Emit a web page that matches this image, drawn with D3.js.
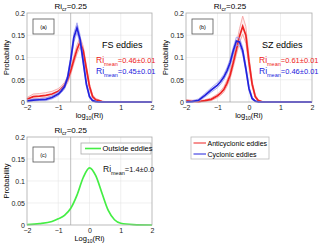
<!DOCTYPE html>
<html>
<head>
<meta charset="utf-8">
<script src="https://cdn.jsdelivr.net/npm/d3@7"></script>
<style>
  body { margin: 0; background: #fff; }
  text { font-family: "Liberation Sans", Arial, sans-serif; }
</style>
</head>
<body>
<svg id="chart" width="320" height="247"></svg>
<script>
// bin centres of log10(Ri) for the eddy histograms
const xsEddy = [-2, -1.8, -1.6, -1.4, -1.2, -1, -0.9, -0.8, -0.7, -0.6, -0.5, -0.4, -0.3, -0.2, -0.1, 0, 0.1, 0.2, 0.3, 0.4, 0.5, 1, 1.5, 2];

// (a) FS eddies
const fsAnti      = [0.006, 0.012, 0.013, 0.015, 0.018, 0.024, 0.030, 0.038, 0.050, 0.070, 0.095, 0.118, 0.135, 0.115, 0.075, 0.035, 0.012, 0.005, 0.003, 0.001, 0, 0, 0, 0];
const fsAntiHi    = [0.010, 0.018, 0.019, 0.021, 0.024, 0.030, 0.036, 0.044, 0.057, 0.078, 0.104, 0.128, 0.146, 0.125, 0.083, 0.041, 0.016, 0.008, 0.005, 0.002, 0.001, 0, 0, 0];
const fsAntiLo    = [0.002, 0.007, 0.008, 0.010, 0.013, 0.018, 0.024, 0.032, 0.043, 0.062, 0.086, 0.108, 0.124, 0.105, 0.067, 0.029, 0.008, 0.002, 0.001, 0, 0, 0, 0, 0];
const fsCyc       = [0.002, 0.004, 0.005, 0.006, 0.010, 0.018, 0.025, 0.034, 0.055, 0.095, 0.145, 0.167, 0.140, 0.090, 0.040, 0.012, 0.003, 0.001, 0, 0, 0, 0, 0, 0];
const fsCycHi     = [0.004, 0.007, 0.008, 0.009, 0.014, 0.022, 0.030, 0.039, 0.061, 0.103, 0.155, 0.178, 0.150, 0.098, 0.045, 0.015, 0.005, 0.002, 0, 0, 0, 0, 0, 0];
const fsCycLo     = [0, 0.002, 0.003, 0.003, 0.007, 0.014, 0.021, 0.029, 0.049, 0.087, 0.135, 0.156, 0.130, 0.082, 0.035, 0.009, 0.001, 0, 0, 0, 0, 0, 0, 0];

// (b) SZ eddies
const szAnti      = [0.003, 0.002, 0.001, 0.003, 0.006, 0.014, 0.020, 0.028, 0.042, 0.060, 0.088, 0.118, 0.148, 0.170, 0.150, 0.090, 0.040, 0.012, 0.003, 0.001, 0, 0, 0, 0];
const szAntiHi    = [0.005, 0.004, 0.003, 0.005, 0.009, 0.018, 0.025, 0.034, 0.049, 0.068, 0.098, 0.131, 0.165, 0.193, 0.170, 0.103, 0.047, 0.016, 0.005, 0.002, 0, 0, 0, 0];
const szAntiLo    = [0.001, 0, 0, 0.001, 0.003, 0.010, 0.015, 0.022, 0.035, 0.052, 0.078, 0.106, 0.133, 0.152, 0.132, 0.078, 0.034, 0.008, 0.001, 0, 0, 0, 0, 0];
const szCyc       = [0, 0.001, 0.004, 0.015, 0.027, 0.038, 0.046, 0.056, 0.070, 0.088, 0.115, 0.137, 0.135, 0.115, 0.075, 0.030, 0.008, 0.002, 0, 0, 0, 0, 0, 0];
const szCycHi     = [0.001, 0.003, 0.007, 0.019, 0.032, 0.044, 0.052, 0.062, 0.077, 0.096, 0.123, 0.146, 0.144, 0.123, 0.082, 0.035, 0.011, 0.003, 0, 0, 0, 0, 0, 0];
const szCycLo     = [0, 0, 0.002, 0.011, 0.022, 0.032, 0.040, 0.050, 0.063, 0.080, 0.107, 0.128, 0.126, 0.107, 0.068, 0.025, 0.005, 0.001, 0, 0, 0, 0, 0, 0];

// (c) outside eddies
const xsOut = [-2, -1.6, -1.2, -1, -0.8, -0.6, -0.4, -0.2, 0, 0.2, 0.4, 0.6, 0.8, 1, 1.4, 2];
const outside = [0.001, 0.003, 0.008, 0.014, 0.022, 0.038, 0.068, 0.108, 0.130, 0.112, 0.072, 0.033, 0.012, 0.004, 0.001, 0];

const xTicks = [-2, -1, 0, 1, 2];
const yTicks = [0, 0.05, 0.1, 0.15, 0.2];
const riCr = 0.25;

const RED = "#ee2222", RED_L = "#f59a9a", BLUE = "#2222dd", BLUE_L = "#9a9af0", GREEN = "#44ee44";

const svg = d3.select("#chart");

function panel(o) {
    const x = d3.scaleLinear().domain([-2, 2]).range([o.left, o.right]);
    const y = d3.scaleLinear().domain([0, 0.2]).range([o.bottom, o.top]);
    const g = svg.append("g");

    // grid
    g.selectAll(".gx").data(xTicks.slice(1, -1)).enter().append("line")
        .attr("x1", d => x(d)).attr("x2", d => x(d))
        .attr("y1", o.top).attr("y2", o.bottom)
        .attr("stroke", "#e6e6e6").attr("stroke-width", 0.6);
    g.selectAll(".gy").data(yTicks.slice(1, -1)).enter().append("line")
        .attr("x1", o.left).attr("x2", o.right)
        .attr("y1", d => y(d)).attr("y2", d => y(d))
        .attr("stroke", "#e6e6e6").attr("stroke-width", 0.6);

    // Ri_cr line
    const xc = x(Math.log10(riCr));
    g.append("line").attr("x1", xc).attr("x2", xc).attr("y1", o.top).attr("y2", o.bottom)
        .attr("stroke", "#b0b0b0").attr("stroke-width", 0.8);

    // axes
    const ax = g.append("g").attr("transform", `translate(0,${o.bottom})`)
        .call(d3.axisBottom(x).tickValues(xTicks).tickSize(0).tickPadding(3).tickFormat(d3.format("d")));
    const ay = g.append("g").attr("transform", `translate(${o.left},0)`)
        .call(d3.axisLeft(y).tickValues(yTicks).tickSize(0).tickPadding(2).tickFormat(d => d === 0 ? "0" : String(d)));
    [ax, ay].forEach(a => {
        a.select(".domain").remove();
        a.selectAll("text").attr("font-size", 7).attr("fill", "#222").attr("font-family", "Liberation Sans, Arial, sans-serif");
    });

    // curves
    o.series.forEach(s => {
        const line = d3.line().x((d, i) => x(s.xs[i])).y(d => y(d)).curve(s.curve || d3.curveLinear);
        if (s.hi) {
            const area = d3.area().x((d, i) => x(s.xs[i])).y0((d, i) => y(s.lo[i])).y1(d => y(d));
            g.append("path").attr("d", area(s.hi)).attr("fill", s.light).attr("opacity", 0.18);
            g.append("path").attr("d", line(s.hi)).attr("fill", "none").attr("stroke", s.light).attr("stroke-width", 0.8);
            g.append("path").attr("d", line(s.lo)).attr("fill", "none").attr("stroke", s.light).attr("stroke-width", 0.8);
        }
        g.append("path").attr("d", line(s.values)).attr("fill", "none")
            .attr("stroke", s.color).attr("stroke-width", 1.7);
    });

    // frame
    g.append("rect").attr("x", o.left).attr("y", o.top)
        .attr("width", o.right - o.left).attr("height", o.bottom - o.top)
        .attr("fill", "none").attr("stroke", "#aaa").attr("stroke-width", 0.8);

    // panel tag box
    g.append("rect").attr("x", o.left + 6).attr("y", o.tagY).attr("width", 21).attr("height", 15)
        .attr("fill", "#fff").attr("stroke", "#555").attr("stroke-width", 0.8);
    g.append("text").attr("x", o.left + 16.5).attr("y", o.tagY + 9.5).attr("text-anchor", "middle")
        .attr("font-size", 5.5).attr("font-family", "Liberation Serif, serif").text(o.tag);

    // title Ri_cr
    const t = g.append("text").attr("x", xc).attr("y", o.top - 4).attr("text-anchor", "middle").attr("font-size", 8);
    t.append("tspan").text("Ri");
    t.append("tspan").attr("font-size", 5.5).attr("dy", 2).text("cr");
    t.append("tspan").attr("dy", -2).text("=0.25");

    // x label
    const xl = g.append("text").attr("x", (o.left + o.right) / 2).attr("y", o.bottom + 16)
        .attr("text-anchor", "middle").attr("font-size", 7.5);
    xl.append("tspan").text(o.xlab);
    xl.append("tspan").attr("font-size", 5).attr("dy", 2).text("10");
    xl.append("tspan").attr("dy", -2).text("(Ri)");

    // y label
    g.append("text").attr("transform", `translate(${o.left - 18},${(o.top + o.bottom) / 2}) rotate(-90)`)
        .attr("text-anchor", "middle").attr("font-size", 7.5).text("Probability");

    return {x, y, g};
}

function riMean(g, xPos, yPos, val, color) {
    const t = g.append("text").attr("x", xPos).attr("y", yPos).attr("font-size", 8.5).attr("fill", color);
    t.append("tspan").text("Ri");
    t.append("tspan").attr("font-size", 5.5).attr("dy", 2.5).text("mean");
    t.append("tspan").attr("dy", -2.5).attr("font-size", 7.5).text(val);
}

const pa = panel({left: 27, right: 152, top: 13, bottom: 102, tag: "(a)", tagY: 19, xlab: "log",
    series: [
        {xs: xsEddy, values: fsAnti, hi: fsAntiHi, lo: fsAntiLo, color: RED, light: RED_L},
        {xs: xsEddy, values: fsCyc, hi: fsCycHi, lo: fsCycLo, color: BLUE, light: BLUE_L}
    ]});
pa.g.append("text").attr("x", 102).attr("y", 48).attr("font-size", 9).text("FS eddies");
riMean(pa.g, 96, 63, "=0.46±0.01", RED);
riMean(pa.g, 96, 74, "=0.45±0.01", BLUE);

const pb = panel({left: 186, right: 312, top: 13, bottom: 102, tag: "(b)", tagY: 19, xlab: "log",
    series: [
        {xs: xsEddy, values: szAnti, hi: szAntiHi, lo: szAntiLo, color: RED, light: RED_L},
        {xs: xsEddy, values: szCyc, hi: szCycHi, lo: szCycLo, color: BLUE, light: BLUE_L}
    ]});
pb.g.append("text").attr("x", 262).attr("y", 48).attr("font-size", 9).text("SZ eddies");
riMean(pb.g, 259, 63, "=0.61±0.01", RED);
riMean(pb.g, 259, 74, "=0.46±0.01", BLUE);

const pc = panel({left: 27, right: 152, top: 137, bottom: 225, tag: "(c)", tagY: 147, xlab: "Log",
    series: [
        {xs: xsOut, values: outside, color: GREEN, curve: d3.curveMonotoneX}
    ]});
riMean(pc.g, 103, 172, "=1.4±0.0", "#111");

// legend in (c)
pc.g.append("rect").attr("x", 81).attr("y", 143).attr("width", 70).attr("height", 11)
    .attr("fill", "#fff").attr("stroke", "#aaa").attr("stroke-width", 0.8);
pc.g.append("line").attr("x1", 85).attr("x2", 101).attr("y1", 148.5).attr("y2", 148.5)
    .attr("stroke", GREEN).attr("stroke-width", 1.6);
pc.g.append("text").attr("x", 102.5).attr("y", 151).attr("font-size", 7.5).text("Outside eddies");

// shared legend
const legendItems = [{label: "Anticyclonic eddies", color: RED}, {label: "Cyclonic eddies", color: BLUE}];
const lg = svg.append("g");
lg.append("rect").attr("x", 191).attr("y", 137).attr("width", 78).attr("height", 22)
    .attr("fill", "#fff").attr("stroke", "#bbb").attr("stroke-width", 0.8);
lg.selectAll(".li").data(legendItems).enter().append("g").each(function(d, i) {
    const yy = 143 + i * 11;
    d3.select(this).append("line").attr("x1", 193.5).attr("x2", 206).attr("y1", yy).attr("y2", yy)
        .attr("stroke", d.color).attr("stroke-width", 1);
    d3.select(this).append("text").attr("x", 207.5).attr("y", yy + 2.5).attr("font-size", 7).text(d.label);
});
</script>
</body>
</html>
